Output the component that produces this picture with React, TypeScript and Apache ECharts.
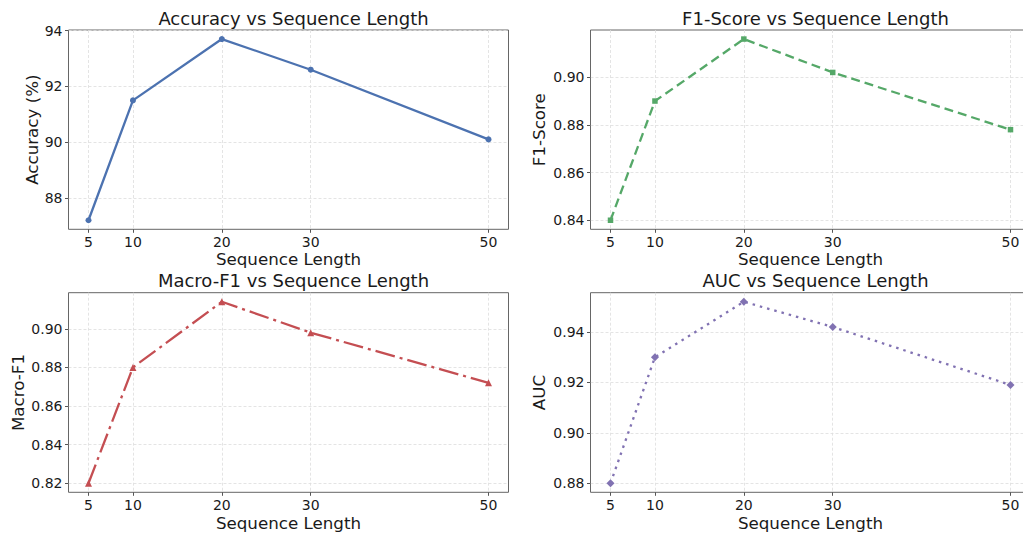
import { useEffect, useRef } from 'react';
import * as echarts from 'echarts';

const seqLengths = [5, 10, 20, 30, 50];
const accuracy = [87.2, 91.5, 93.7, 92.6, 90.1];
const f1Score = [0.84, 0.89, 0.916, 0.902, 0.878];
const macroF1 = [0.82, 0.88, 0.914, 0.898, 0.872];
const auc = [0.88, 0.93, 0.952, 0.942, 0.919];

const xTicks = [5, 10, 20, 30, 50];
const accTicks = [88, 90, 92, 94];
const f1Ticks = [0.84, 0.86, 0.88, 0.9];
const macroTicks = [0.82, 0.84, 0.86, 0.88, 0.9];
const aucTicks = [0.88, 0.9, 0.92, 0.94];

const titles = [
  'Accuracy vs Sequence Length',
  'F1-Score vs Sequence Length',
  'Macro-F1 vs Sequence Length',
  'AUC vs Sequence Length',
];
const yNames = ['Accuracy (%)', 'F1-Score', 'Macro-F1', 'AUC'];

const FONT = 'DejaVu Sans';
const TXT = '#1a1a1a';

function padded(vals: number[]) {
  const lo = Math.min(...vals);
  const hi = Math.max(...vals);
  const m = (hi - lo) * 0.05;
  return [lo - m, hi + m];
}

export default function App() {
  const ref = useRef<HTMLDivElement>(null);
  useEffect(() => {
    if (!ref.current) return;
    const chart = echarts.init(ref.current, null, { renderer: 'svg' });
    const grids = [
      { left: 68.5, top: 30, width: 440, height: 199.3 },
      { left: 590.5, top: 30, width: 440, height: 199.3 },
      { left: 68.5, top: 292.7, width: 440, height: 199.6 },
      { left: 590.5, top: 292.7, width: 440, height: 199.6 },
    ];
    const series = [accuracy, f1Score, macroF1, auc];
    const yTicks = [accTicks, f1Ticks, macroTicks, aucTicks];
    const colors = ['#4C72B0', '#55A868', '#C44E52', '#8172B2'];
    const symbols = ['circle', 'rect', 'triangle', 'diamond'];
    const symbolSizes = [6, 5.5, 7, 8];
    const dashes: any[] = ['solid', [9, 5], [20, 5, 3, 5], [2.5, 5]];
    const yNameGaps = [28, 43, 42, 43];
    const xr = padded(seqLengths);

    const option: any = {
      animation: false,
      backgroundColor: '#ffffff',
      textStyle: { fontFamily: FONT },
      grid: grids.map((g) => ({
        ...g,
        show: true,
        borderColor: '#666666',
        borderWidth: 1,
        backgroundColor: 'transparent',
        containLabel: false,
      })),
      title: titles.map((t, i) => ({
        text: t,
        left: grids[i].left + grids[i].width / 2,
        top: i < 2 ? 4 : 266.5,
        textAlign: 'center',
        textStyle: { fontFamily: FONT, fontSize: 18, fontWeight: 'normal', color: TXT },
      })),
      xAxis: grids.map((g, i) => ({
        gridIndex: i,
        type: 'value',
        min: xr[0],
        max: xr[1],
        axisLine: { show: false },
        axisTick: {
          show: true,
          customValues: xTicks,
          length: 3.5,
          lineStyle: { color: '#555555', width: 1 },
        },
        axisLabel: {
          customValues: xTicks,
          fontFamily: FONT,
          fontSize: 14,
          color: TXT,
          margin: 6,
        },
        splitLine: {
          show: true,
          lineStyle: { color: '#dddddd', width: 0.8, type: [3, 2] },
        },
        name: 'Sequence Length',
        nameLocation: 'middle',
        nameGap: i < 2 ? 21 : 22.5,
        nameTextStyle: { fontFamily: FONT, fontSize: 16.7, color: TXT },
      })),
      yAxis: grids.map((g, i) => {
        const r = padded(series[i]);
        return {
          gridIndex: i,
          type: 'value',
          min: r[0],
          max: r[1],
          axisLine: { show: false },
          axisTick: {
            show: true,
            customValues: yTicks[i],
            length: 3.5,
            lineStyle: { color: '#555555', width: 1 },
          },
          axisLabel: {
            customValues: yTicks[i],
            fontFamily: FONT,
            fontSize: 14,
            color: TXT,
            margin: 6,
            formatter: (v: number) => (i === 0 ? String(Math.round(v)) : v.toFixed(2)),
          },
          splitLine: {
            show: true,
            lineStyle: { color: '#dddddd', width: 0.8, type: [3, 2] },
          },
          name: yNames[i],
          nameLocation: 'middle',
          nameGap: yNameGaps[i],
          nameTextStyle: { fontFamily: FONT, fontSize: 16.7, color: TXT },
        };
      }),
      series: series.map((vals, i) => ({
        type: 'line',
        xAxisIndex: i,
        yAxisIndex: i,
        data: seqLengths.map((x, k) => [x, vals[k]]),
        symbol: symbols[i],
        symbolSize: symbolSizes[i],
        showSymbol: true,
        itemStyle: { color: colors[i] },
        lineStyle: { color: colors[i], width: 2.3, type: dashes[i], cap: 'butt' },
        clip: false,
      })),
    };
    chart.setOption(option);
    return () => chart.dispose();
  }, []);
  return (
    <div
      ref={ref}
      style={{ position: 'fixed', left: 0, top: 0, width: 1040, height: 533, background: '#fff' }}
    />
  );
}
